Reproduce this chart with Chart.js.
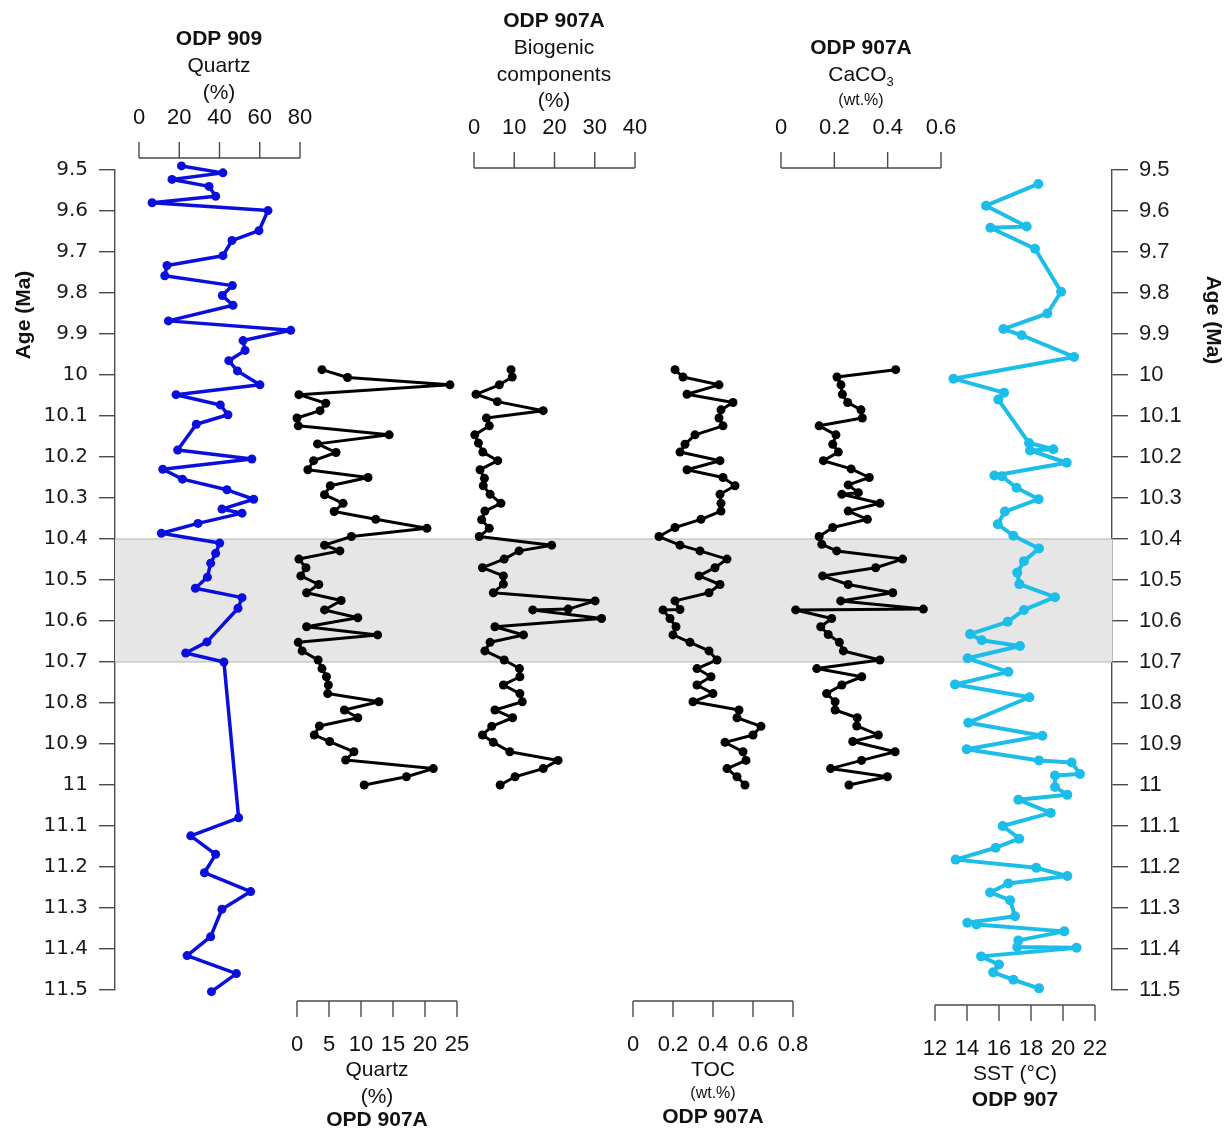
<!DOCTYPE html>
<html>
<head>
<meta charset="utf-8">
<title>ODP 907A / 909 records, 9.5-11.5 Ma</title>
<script src="https://cdn.jsdelivr.net/npm/chart.js@4.4.1/dist/chart.umd.min.js"></script>
<style>
  html, body { margin: 0; padding: 0; background: #fff; }
  #wrap { width: 1231px; height: 1133px; }
</style>
</head>
<body>
<div id="wrap"><canvas id="chart" width="1231" height="1133"></canvas></div>
<script>
// ---- data ----
const ageTicks = [9.5, 9.6, 9.7, 9.8, 9.9, 10, 10.1, 10.2, 10.3, 10.4, 10.5,
                  10.6, 10.7, 10.8, 10.9, 11, 11.1, 11.2, 11.3, 11.4, 11.5];
const q909Ticks = [0, 20, 40, 60, 80];
const q907Ticks = [0, 5, 10, 15, 20, 25];
const bioTicks = [0, 10, 20, 30, 40];
const tocTicks = [0, 0.2, 0.4, 0.6, 0.8];
const caco3Ticks = [0, 0.2, 0.4, 0.6];
const sstTicks = [12, 14, 16, 18, 20, 22];
const bandAges = [10.4, 10.7];

// ODP 909 quartz (%)
const q909Age = [9.49, 9.507, 9.523, 9.54, 9.564, 9.58, 9.599, 9.648, 9.672, 9.709,
  9.733, 9.758, 9.782, 9.806, 9.83, 9.868, 9.891, 9.916, 9.94, 9.965,
  9.99, 10.024, 10.048, 10.073, 10.097, 10.12, 10.183, 10.205, 10.23, 10.254,
  10.28, 10.303, 10.327, 10.337, 10.362, 10.386, 10.41, 10.435, 10.459, 10.493,
  10.52, 10.543, 10.569, 10.651, 10.678, 10.70, 11.08, 11.124, 11.169, 11.214,
  11.26, 11.303, 11.37, 11.416, 11.46, 11.504];
const q909Pct = [21.1, 41.7, 16.4, 34.8, 38.1, 6.5, 64.1, 59.6, 46.2, 41.7,
  13.9, 12.8, 46.4, 41.4, 46.7, 14.6, 75.4, 51.7, 52.7, 44.6,
  48.9, 60.1, 18.4, 40.4, 44.2, 28.5, 19.2, 56.1, 11.8, 21.6,
  43.7, 57.0, 41.2, 51.2, 29.3, 11.1, 40.1, 38.1, 35.6, 34.0,
  28.0, 51.2, 49.2, 33.8, 23.2, 42.2, 49.5, 25.7, 38.1, 32.5,
  55.5, 41.2, 35.6, 23.9, 48.4, 36.0];

// ODP 907A quartz (%)
const q907Age = [9.987, 10.006, 10.024, 10.048, 10.069, 10.087, 10.105, 10.124, 10.146, 10.168,
  10.189, 10.209, 10.231, 10.25, 10.27, 10.292, 10.313, 10.333, 10.352, 10.374,
  10.394, 10.415, 10.429, 10.449, 10.47, 10.49, 10.511, 10.531, 10.55, 10.573,
  10.592, 10.614, 10.634, 10.652, 10.673, 10.695, 10.716, 10.736, 10.756, 10.777,
  10.797, 10.817, 10.836, 10.856, 10.878, 10.894, 10.919, 10.939, 10.96, 10.98, 11.0];
const q907Pct = [3.9, 7.9, 23.9, 0.3, 4.5, 3.6, 0.0, 0.2, 14.4, 3.2,
  6.1, 2.6, 1.7, 11.1, 5.2, 4.3, 7.2, 5.8, 12.3, 20.3,
  8.5, 4.3, 6.7, 0.3, 1.4, 0.6, 3.4, 1.5, 6.9, 4.3,
  9.5, 1.5, 12.6, 0.2, 0.8, 3.3, 3.9, 4.6, 4.9, 4.8,
  12.8, 7.4, 9.5, 3.5, 2.7, 5.1, 8.9, 7.6, 21.3, 17.1, 10.5];

// ODP 907A biogenic components (%)
const bioAge = [9.987, 10.005, 10.024, 10.047, 10.065, 10.087, 10.105, 10.124, 10.146, 10.166,
  10.188, 10.209, 10.231, 10.252, 10.27, 10.291, 10.313, 10.332, 10.353, 10.374,
  10.394, 10.415, 10.429, 10.449, 10.47, 10.49, 10.51, 10.531, 10.551, 10.571,
  10.573, 10.594, 10.614, 10.634, 10.652, 10.673, 10.695, 10.716, 10.736, 10.756,
  10.777, 10.797, 10.817, 10.836, 10.857, 10.878, 10.896, 10.919, 10.94, 10.96, 10.98, 11.0];
const bioPct = [9.2, 9.5, 6.3, 0.5, 5.8, 17.2, 3.1, 3.8, 0.2, 1.1,
  2.2, 5.9, 1.5, 2.6, 2.3, 4.0, 6.7, 2.7, 1.9, 3.8,
  1.3, 19.3, 11.2, 7.5, 2.1, 7.3, 7.3, 4.8, 30.1, 23.4,
  14.6, 31.7, 5.2, 12.3, 4.0, 2.7, 7.5, 11.3, 11.4, 7.3,
  11.4, 12.0, 5.2, 9.6, 4.4, 2.1, 4.8, 8.9, 20.9, 17.2, 10.2, 6.5];

// ODP 907A TOC (wt.%)
const tocAge = [9.987, 10.005, 10.024, 10.047, 10.067, 10.085, 10.105, 10.124, 10.146, 10.169,
  10.188, 10.209, 10.231, 10.25, 10.27, 10.291, 10.313, 10.332, 10.352, 10.372,
  10.394, 10.415, 10.429, 10.449, 10.47, 10.49, 10.511, 10.531, 10.551, 10.572,
  10.573, 10.594, 10.614, 10.634, 10.652, 10.673, 10.695, 10.716, 10.736, 10.756,
  10.777, 10.797, 10.817, 10.836, 10.857, 10.878, 10.896, 10.919, 10.94, 10.96, 10.98, 11.0];
const tocWt = [0.21, 0.25, 0.43, 0.27, 0.50, 0.44, 0.43, 0.45, 0.31, 0.26,
  0.235, 0.435, 0.27, 0.45, 0.51, 0.435, 0.44, 0.44, 0.34, 0.21,
  0.13, 0.235, 0.335, 0.47, 0.41, 0.33, 0.435, 0.38, 0.21, 0.235,
  0.15, 0.185, 0.215, 0.20, 0.285, 0.38, 0.42, 0.32, 0.39, 0.32,
  0.40, 0.30, 0.53, 0.52, 0.64, 0.60, 0.46, 0.55, 0.565, 0.47, 0.52, 0.56];

// ODP 907A CaCO3 (wt.%)
const caco3Age = [9.987, 10.005, 10.024, 10.047, 10.067, 10.085, 10.105, 10.124, 10.146, 10.169,
  10.188, 10.209, 10.229, 10.25, 10.268, 10.287, 10.291, 10.313, 10.332, 10.352,
  10.372, 10.394, 10.413, 10.429, 10.449, 10.47, 10.49, 10.511, 10.531, 10.551,
  10.571, 10.573, 10.594, 10.614, 10.633, 10.652, 10.673, 10.695, 10.716, 10.736,
  10.756, 10.777, 10.797, 10.817, 10.836, 10.856, 10.878, 10.894, 10.919, 10.94,
  10.96, 10.98, 11.0];
const caco3Wt = [0.43, 0.21, 0.225, 0.23, 0.25, 0.30, 0.305, 0.143, 0.206, 0.194,
  0.215, 0.159, 0.263, 0.331, 0.252, 0.29, 0.228, 0.371, 0.252, 0.324,
  0.194, 0.143, 0.153, 0.209, 0.456, 0.355, 0.156, 0.252, 0.419, 0.224,
  0.534, 0.055, 0.19, 0.149, 0.177, 0.219, 0.234, 0.371, 0.134, 0.303,
  0.228, 0.171, 0.203, 0.203, 0.286, 0.284, 0.365, 0.269, 0.428, 0.302,
  0.186, 0.399, 0.255];

// ODP 907 SST (deg C)
const sstAge = [9.534, 9.587, 9.638, 9.641, 9.692, 9.797, 9.85, 9.888, 9.903, 9.956,
  10.009, 10.043, 10.06, 10.166, 10.181, 10.184, 10.214, 10.245, 10.247, 10.275,
  10.303, 10.333, 10.364, 10.392, 10.423, 10.454, 10.482, 10.51, 10.542, 10.573,
  10.602, 10.632, 10.647, 10.661, 10.691, 10.724, 10.755, 10.786, 10.848, 10.88,
  10.913, 10.94, 10.945, 10.973, 10.977, 11.005, 11.024, 11.036, 11.068, 11.1,
  11.131, 11.153, 11.182, 11.202, 11.222, 11.24, 11.262, 11.281, 11.32, 11.336,
  11.34, 11.357, 11.379, 11.395, 11.397, 11.418, 11.438, 11.457, 11.475, 11.496];
const sstC = [18.46, 15.19, 17.73, 15.46, 18.25, 19.88, 19.02, 16.27, 17.42, 20.69,
  13.15, 16.31, 15.96, 17.88, 19.4, 17.94, 20.23, 15.71, 16.17, 17.1,
  18.48, 16.37, 15.92, 16.9, 18.5, 17.56, 17.14, 17.27, 19.5, 17.56,
  16.54, 14.19, 14.92, 17.31, 14.04, 16.58, 13.25, 17.9, 14.08, 18.71,
  13.98, 18.5, 20.54, 21.06, 19.5, 19.5, 20.27, 17.21, 19.23, 16.23,
  17.27, 15.79, 13.29, 18.33, 20.27, 16.58, 15.44, 16.69, 17.0, 14.02,
  14.6, 20.08, 17.21, 17.14, 20.85, 14.88, 16.0, 15.64, 16.9, 18.5];

// ---- layout ----
const W = 1231, H = 1133;
const AREA = {left: 115, right: 1112, top: 170, bottom: 990};
const FONT = "'Liberation Sans', Arial, sans-serif";
const AXIS_COLOR = '#4a4a4a';
const BLUE = '#0b0fdc';
const CYAN = '#1cbde9';
const BLACK = '#000000';

// each small x axis: where its first / last tick sits on the page
const panels = [
  {id: 'xQ909', ticks: q909Ticks, p0: 139, p1: 300, side: 'top', base: 158, labelY: 118, cx: 219,
    titles: [['ODP 909', 39, 'bold'], ['Quartz', 66], ['(%)', 93]]},
  {id: 'xBio', ticks: bioTicks, p0: 474, p1: 635, side: 'top', base: 168, labelY: 128, cx: 554,
    titles: [['ODP 907A', 21, 'bold'], ['Biogenic', 48], ['components', 75], ['(%)', 101]]},
  {id: 'xCaco3', ticks: caco3Ticks, p0: 781, p1: 941, side: 'top', base: 168, labelY: 128, cx: 861,
    titles: [['ODP 907A', 48, 'bold'], ['CaCO', 75, null, '3'], ['(wt.%)', 101, 'small']]},
  {id: 'xQ907', ticks: q907Ticks, p0: 297, p1: 457, side: 'bottom', base: 1001, labelY: 1045, cx: 377,
    titles: [['Quartz', 1070], ['(%)', 1097], ['OPD 907A', 1120, 'bold']]},
  {id: 'xToc', ticks: tocTicks, p0: 633, p1: 793, side: 'bottom', base: 1001, labelY: 1045, cx: 713,
    titles: [['TOC', 1070], ['(wt.%)', 1094, 'small'], ['ODP 907A', 1117, 'bold']]},
  {id: 'xSst', ticks: sstTicks, p0: 935, p1: 1095, side: 'bottom', base: 1005, labelY: 1049, cx: 1015,
    titles: [['SST (°C)', 1074], ['ODP 907', 1100, 'bold']]}
];

// stretch each value range so the ticks land on p0..p1 across the full plot width
function xScale(p) {
  const v0 = p.ticks[0], v1 = p.ticks[p.ticks.length - 1];
  const k = (v1 - v0) / (p.p1 - p.p0);
  return {
    type: 'linear', display: false,
    min: v0 - (p.p0 - AREA.left) * k,
    max: v1 + (AREA.right - p.p1) * k
  };
}

function pts(ages, vals) {
  return ages.map((a, i) => ({x: vals[i], y: a}));
}

function series(label, ages, vals, axis, color, width, radius) {
  return {
    label: label, data: pts(ages, vals), xAxisID: axis, yAxisID: 'y',
    borderColor: color, backgroundColor: color, borderWidth: width,
    pointRadius: radius, pointHoverRadius: radius, pointBorderWidth: 0,
    pointBackgroundColor: color, tension: 0, clip: false,
    borderJoinStyle: 'round', borderCapStyle: 'round'
  };
}

const ageAxis = (pos, width, font) => ({
  type: 'linear', position: pos, min: 9.5, max: 11.5, reverse: true,
  afterFit: s => { s.width = width; },
  afterBuildTicks: s => { s.ticks = ageTicks.map(v => ({value: v})); },
  ticks: {
    autoSkip: false, padding: 11, color: '#1a1a1a', font: font,
    callback: v => String(+v.toFixed(1))
  },
  grid: {drawOnChartArea: false, drawTicks: true, tickLength: 16, color: AXIS_COLOR, lineWidth: 1.4},
  border: {display: true, color: AXIS_COLOR, width: 1.4}
});

const scales = {
  y: ageAxis('left', AREA.left, {family: "'DejaVu Sans', sans-serif", size: 20}),
  y2: ageAxis('right', W - AREA.right, {family: FONT, size: 22})
};
panels.forEach(p => { scales[p.id] = xScale(p); });

// grey interval 10.4 - 10.7 Ma
const bandPlugin = {
  id: 'band',
  beforeDatasetsDraw(chart) {
    const {ctx, chartArea} = chart;
    const y = chart.scales.y;
    const top = y.getPixelForValue(bandAges[0]);
    const bot = y.getPixelForValue(bandAges[1]);
    ctx.save();
    ctx.fillStyle = '#e6e6e6';
    ctx.fillRect(chartArea.left, top, chartArea.right - chartArea.left, bot - top);
    ctx.strokeStyle = '#b5b5b5';
    ctx.lineWidth = 1;
    ctx.beginPath();
    ctx.moveTo(chartArea.left, top); ctx.lineTo(chartArea.right, top);
    ctx.moveTo(chartArea.left, bot); ctx.lineTo(chartArea.right, bot);
    ctx.stroke();
    ctx.restore();
  }
};

// the small bracket axes above and below the plot, plus their titles
const panelAxesPlugin = {
  id: 'panelAxes',
  afterDraw(chart) {
    const ctx = chart.ctx;
    ctx.save();
    ctx.textAlign = 'center';
    ctx.textBaseline = 'middle';
    panels.forEach(p => {
      const sc = chart.scales[p.id];
      const xs = p.ticks.map(v => sc.getPixelForValue(v));
      const dir = p.side === 'top' ? -1 : 1;
      ctx.strokeStyle = AXIS_COLOR;
      ctx.lineWidth = 1.4;
      ctx.beginPath();
      ctx.moveTo(xs[0], p.base);
      ctx.lineTo(xs[xs.length - 1], p.base);
      xs.forEach(x => {
        ctx.moveTo(x, p.base);
        ctx.lineTo(x, p.base + dir * 16);
      });
      ctx.stroke();

      ctx.fillStyle = '#111';
      ctx.font = '22px ' + FONT;
      p.ticks.forEach((v, i) => ctx.fillText(String(v), xs[i], p.labelY));

      p.titles.forEach(t => {
        const [text, y, style, sub] = t;
        if (style === 'bold') ctx.font = 'bold 21px ' + FONT;
        else if (style === 'small') ctx.font = '16px ' + FONT;
        else ctx.font = '21px ' + FONT;
        if (sub) {
          const w = ctx.measureText(text).width;
          ctx.save();
          ctx.font = '13px ' + FONT;
          const ws = ctx.measureText(sub).width;
          ctx.restore();
          const x0 = p.cx - (w + ws) / 2;
          ctx.textAlign = 'left';
          ctx.fillText(text, x0, y);
          ctx.font = '13px ' + FONT;
          ctx.fillText(sub, x0 + w, y + 7);
          ctx.textAlign = 'center';
        } else {
          ctx.fillText(text, p.cx, y);
        }
      });
    });

    // age axis titles
    ctx.font = 'bold 21px ' + FONT;
    ctx.fillStyle = '#111';
    ctx.save();
    ctx.translate(24, 315);
    ctx.rotate(-Math.PI / 2);
    ctx.fillText('Age (Ma)', 0, 0);
    ctx.restore();
    ctx.save();
    ctx.translate(1213, 320);
    ctx.rotate(Math.PI / 2);
    ctx.fillText('Age (Ma)', 0, 0);
    ctx.restore();
    ctx.restore();
  }
};

new Chart(document.getElementById('chart'), {
  type: 'line',
  data: {
    datasets: [
      series('ODP 909 Quartz (%)', q909Age, q909Pct, 'xQ909', BLUE, 3.5, 4.5),
      series('ODP 907A Quartz (%)', q907Age, q907Pct, 'xQ907', BLACK, 3, 4.5),
      series('ODP 907A Biogenic components (%)', bioAge, bioPct, 'xBio', BLACK, 3, 4.5),
      series('ODP 907A TOC (wt.%)', tocAge, tocWt, 'xToc', BLACK, 3, 4.5),
      series('ODP 907A CaCO3 (wt.%)', caco3Age, caco3Wt, 'xCaco3', BLACK, 3, 4.5),
      series('ODP 907 SST (°C)', sstAge, sstC, 'xSst', CYAN, 4, 5)
    ]
  },
  options: {
    responsive: false,
    animation: false,
    layout: {padding: {left: 0, right: 0, top: AREA.top, bottom: H - AREA.bottom}},
    scales: scales,
    plugins: {legend: {display: false}, tooltip: {enabled: false}}
  },
  plugins: [bandPlugin, panelAxesPlugin]
});
</script>
</body>
</html>
